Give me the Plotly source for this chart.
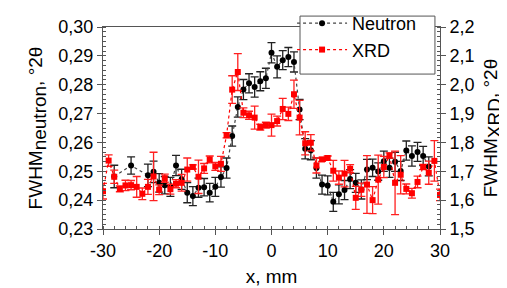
import plotly.graph_objects as go

# ---- data ----
neutron_x = [-28, -25, -22, -21, -20, -19, -18, -17, -16, -15, -14, -13, -12, -11, -10, -9, -8,
             -7, -6, -5, -4, -3, -2, -1, 0, 1, 2, 3, 4, 5, 6, 7, 8, 9, 10, 11, 12, 13, 14, 15,
             16, 17, 18, 19, 20, 21, 22, 23, 24, 25, 26, 27, 28]
neutron_fwhm = [0.2482, 0.2520, 0.2486, 0.2498, 0.2460, 0.2452, 0.2446, 0.2520, 0.2472, 0.2426,
                0.2414, 0.2443, 0.2445, 0.2426, 0.2446, 0.2480, 0.2511, 0.2622, 0.2723, 0.2783,
                0.2805, 0.2792, 0.2812, 0.2822, 0.2911, 0.2862, 0.2885, 0.2896, 0.2879, 0.2714,
                0.2578, 0.2573, 0.2511, 0.2454, 0.2451, 0.2394, 0.2420, 0.2435, 0.2473, 0.2460,
                0.2437, 0.2506, 0.2512, 0.2499, 0.2535, 0.2512, 0.2533, 0.2501, 0.2572, 0.2553,
                0.2567, 0.2553, 0.2517]
neutron_err = [0.0039, 0.0030, 0.0039, 0.0037, 0.0032, 0.0030, 0.0033, 0.0035, 0.0035, 0.0035,
               0.0033, 0.0033, 0.0030, 0.0032, 0.0033, 0.0035, 0.0035, 0.0035, 0.0035, 0.0035,
               0.0033, 0.0035, 0.0033, 0.0035, 0.0035, 0.0038, 0.0033, 0.0033, 0.0035, 0.0035,
               0.0035, 0.0033, 0.0035, 0.0033, 0.0033, 0.0033, 0.0033, 0.0033, 0.0033, 0.0033,
               0.0033, 0.0035, 0.0030, 0.0030, 0.0035, 0.0033, 0.0033, 0.0033, 0.0033, 0.0035,
               0.0033, 0.0033, 0.0033]

xrd_x = list(range(-30, 31))
xrd_fwhm = [1.631, 1.737, 1.681, 1.639, 1.651, 1.652, 1.646, 1.622, 1.646, 1.682,
            1.636, 1.676, 1.638, 1.657, 1.660, 1.706, 1.715, 1.681, 1.710, 1.741,
            1.717, 1.726, 1.825, 1.983, 2.044, 1.903, 1.894, 1.886, 1.853, 1.860,
            1.860, 1.874, 1.916, 1.899, 1.967, 1.886, 1.797, 1.799, 1.720, 1.741,
            1.746, 1.702, 1.678, 1.692, 1.709, 1.608, 1.636, 1.654, 1.600, 1.671,
            1.715, 1.755, 1.660, 1.688, 1.639, 1.624, 1.663, 1.715, 1.695, 1.736,
            1.618]
xrd_err = [0.027, 0.020, 0.023, 0.010, 0.018, 0.016, 0.036, 0.020, 0.026, 0.084,
           0.017, 0.014, 0.017, 0.014, 0.029, 0.040, 0.007, 0.058, 0.017, 0.012,
           0.014, 0.026, 0.009, 0.048, 0.064, 0.017, 0.014, 0.040, 0.010, 0.010,
           0.038, 0.017, 0.037, 0.023, 0.049, 0.060, 0.040, 0.028, 0.026, 0.007,
           0.007, 0.036, 0.023, 0.046, 0.014, 0.040, 0.023, 0.100, 0.047, 0.085,
           0.037, 0.009, 0.110, 0.066, 0.017, 0.017, 0.020, 0.009, 0.040, 0.070,
           0.020]

x_ticks = [-30, -20, -10, 0, 10, 20, 30]
x_ticktext = [str(v) for v in x_ticks]

FONT = "Liberation Sans, Arial, sans-serif"
AXC = "#555555"

fig = go.Figure()
fig.add_trace(go.Scatter(
    x=neutron_x, y=neutron_fwhm, name="Neutron", mode="lines+markers",
    line=dict(color="#444444", width=1.2, dash="dot"),
    marker=dict(color="black", size=6, symbol="circle"),
    error_y=dict(type="data", array=neutron_err, color="#222222", thickness=1.3, width=4),
    yaxis="y",
))
fig.add_trace(go.Scatter(
    x=xrd_x, y=xrd_fwhm, name="XRD", mode="lines+markers",
    line=dict(color="#ff0000", width=1.2, dash="dot"),
    marker=dict(color="#ff0000", size=6, symbol="square"),
    error_y=dict(type="data", array=xrd_err, color="#ff2020", thickness=1.3, width=4),
    yaxis="y2",
))

# legend frame (drawn as a shape so its size matches the reference box)
fig.add_shape(type="rect", xref="paper", yref="paper",
              x0=0.5846, x1=0.985, y0=0.767, y1=1.054,
              line=dict(color=AXC, width=1), fillcolor="white", layer="above")

fig.update_layout(
    width=507, height=288,
    margin=dict(l=95, r=75, t=19, b=67, autoexpand=False),
    paper_bgcolor="white", plot_bgcolor="white",
    separators=", ",
    font=dict(family=FONT, size=18, color="black"),
    showlegend=True,
    legend=dict(x=0.561, y=1.109, xanchor="left", yanchor="top",
                bgcolor="rgba(0,0,0,0)", borderwidth=0,
                font=dict(size=18), tracegroupgap=0, itemwidth=50),
    xaxis=dict(
        range=[-30, 30], tickmode="array", tickvals=x_ticks, ticktext=x_ticktext,
        ticks="outside", ticklen=5, tickcolor=AXC, tickwidth=1,
        showline=True, linecolor=AXC, linewidth=1, mirror=True,
        showgrid=False, zeroline=False,
        minor=dict(ticks="inside", dtick=2, tick0=-30, ticklen=3, tickcolor=AXC),
        title=dict(text="x, mm", font=dict(size=19), standoff=10),
        automargin=False,
    ),
    yaxis=dict(
        range=[0.23, 0.30], dtick=0.01, tick0=0.23, tickformat=".2f",
        ticks="outside", ticklen=5, tickcolor=AXC,
        showline=True, linecolor=AXC, linewidth=1,
        showgrid=False, zeroline=False,
        minor=dict(ticks="inside", dtick=0.01 / 6, tick0=0.23, ticklen=3, tickcolor=AXC),
        title=dict(text="FWHM<sub><span style='font-size:19px'>neutron</span></sub>, °2θ",
                   font=dict(size=19), standoff=10),
        automargin=False,
    ),
    yaxis2=dict(
        range=[1.5, 2.2], dtick=0.1, tick0=1.5, tickformat=".1f",
        overlaying="y", side="right",
        ticks="outside", ticklen=5, tickcolor=AXC,
        showline=True, linecolor=AXC, linewidth=1,
        showgrid=False, zeroline=False,
        minor=dict(ticks="inside", dtick=0.1 / 6, tick0=1.5, ticklen=3, tickcolor=AXC),
        title=dict(text="FWHM<sub><span style='font-size:19px'>XRD</span></sub>, °2θ",
                   font=dict(size=19), standoff=10),
        automargin=False,
    ),
)

fig.write_html("out.html")
